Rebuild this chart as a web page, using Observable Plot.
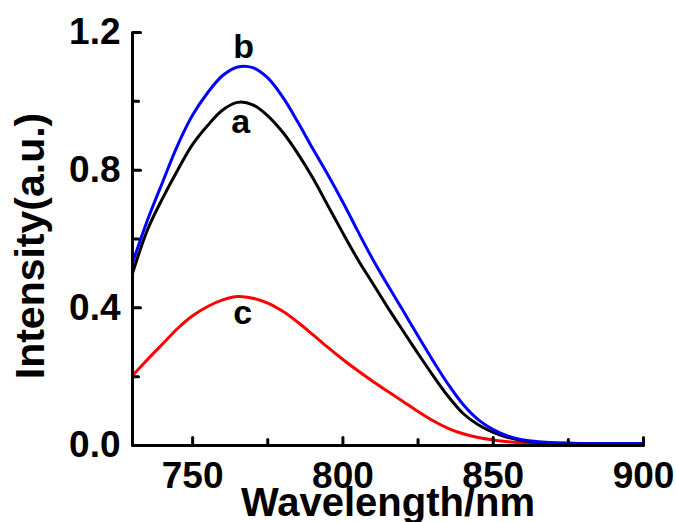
<!DOCTYPE html>
<html>
<head>
<meta charset="utf-8">
<script src="https://cdn.jsdelivr.net/npm/d3@7"></script>
<script src="https://cdn.jsdelivr.net/npm/@observablehq/plot@0.6"></script>
<style>
  html, body { margin: 0; padding: 0; background: #fff; }
</style>
</head>
<body>
<div id="chart"></div>
<script>
const wavelengths = [730,735,740,745,750,755,760,765,770,775,780,785,790,795,800,805,810,815,820,825,830,835,840,845,850,855,860,865,870,875,880,885,890,895,900];
const seriesA = [0.50,0.627,0.718,0.80,0.875,0.93,0.975,0.997,0.99,0.958,0.91,0.848,0.777,0.697,0.617,0.54,0.47,0.40,0.333,0.267,0.203,0.143,0.093,0.06,0.038,0.023,0.014,0.009,0.007,0.006,0.005,0.005,0.005,0.005,0.005];
const seriesB = [0.53,0.655,0.765,0.872,0.96,1.025,1.075,1.10,1.098,1.068,1.012,0.94,0.862,0.787,0.707,0.622,0.54,0.465,0.392,0.318,0.246,0.178,0.119,0.075,0.046,0.027,0.016,0.011,0.008,0.007,0.006,0.006,0.006,0.006,0.006];
const seriesC = [0.203,0.25,0.295,0.34,0.377,0.404,0.423,0.433,0.428,0.414,0.39,0.358,0.322,0.285,0.25,0.217,0.186,0.157,0.128,0.099,0.072,0.05,0.034,0.023,0.016,0.011,0.008,0.006,0.005,0.004,0.004,0.004,0.004,0.004,0.004];
const seriesNames = ["c", "a", "b"];
const seriesColors = ["#ff0000", "#000000", "#0000ff"];
const labelNames = ["a", "b", "c"];
const labelX = [766, 767, 766.7];
const labelY = [0.94, 1.157, 0.384];
const xTicks = [750, 800, 850, 900];
const xMinorTicks = [775, 825, 875];
const yTicks = [0, 0.4, 0.8, 1.2];
const yMinorTicks = [0.2, 0.6, 1.0];
const xTitle = "Wavelength/nm";
const yTitle = "Intensity(a.u.)";

const allSeries = {a: seriesA, b: seriesB, c: seriesC};
const rows = [];
for (const name of seriesNames) {
  allSeries[name].forEach((v, i) => rows.push({series: name, x: wavelengths[i], y: v}));
}
const labels = labelNames.map((t, i) => ({text: t, x: labelX[i], y: labelY[i]}));

const font = "'Liberation Sans', Arial, Helvetica, sans-serif";
const tickShape = {draw(context, l) { context.moveTo(0, 0); context.lineTo(0, -l); }};
const xMin = 730;
const yMin = 0;

const chart = Plot.plot({
  width: 676,
  height: 522,
  marginLeft: 132,
  marginRight: 33,
  marginTop: 32,
  marginBottom: 77,
  style: {fontFamily: font, fontWeight: "bold", background: "#fff", color: "#000"},
  x: {domain: [730, 900]},
  y: {domain: [0, 1.2]},
  color: {domain: seriesNames, range: seriesColors},
  marks: [
    Plot.line(rows, {x: "x", y: "y", z: "series", stroke: "series", strokeWidth: 3, curve: "catmull-rom"}),
    Plot.ruleY([yMin], {stroke: "#000", strokeWidth: 3}),
    Plot.ruleX([xMin], {stroke: "#000", strokeWidth: 3}),
    // inward ticks
    Plot.vector(xTicks, {x: d => d, y: yMin, length: 8, rotate: 0, anchor: "start", shape: tickShape, stroke: "#000", strokeWidth: 3}),
    Plot.vector(xMinorTicks, {x: d => d, y: yMin, length: 6, rotate: 0, anchor: "start", shape: tickShape, stroke: "#000", strokeWidth: 3}),
    Plot.vector(yTicks, {y: d => d, x: xMin, length: 8, rotate: 90, anchor: "start", shape: tickShape, stroke: "#000", strokeWidth: 3}),
    Plot.vector(yMinorTicks, {y: d => d, x: xMin, length: 6, rotate: 90, anchor: "start", shape: tickShape, stroke: "#000", strokeWidth: 3}),
    // tick labels
    Plot.axisX({ticks: xTicks, tickSize: 0, tickPadding: 16, tickFormat: d3.format("d"), fontSize: 37, fontWeight: "bold", label: null}),
    Plot.axisY({ticks: yTicks, tickSize: 0, tickPadding: 12, tickFormat: d3.format(".1f"), fontSize: 37, fontWeight: "bold", label: null}),
    Plot.text(labels, {x: "x", y: "y", text: "text", fontSize: 34, fontWeight: "bold", fill: "#000"}),
    Plot.text([xTitle], {frameAnchor: "bottom", textAnchor: "middle", lineAnchor: "bottom", dy: 70, fontSize: 40, fontWeight: "bold", fill: "#000"}),
    Plot.text([yTitle], {frameAnchor: "left", textAnchor: "middle", rotate: -90, dx: -102, dy: 7, fontSize: 41, fontWeight: "bold", fill: "#000"})
  ]
});
document.getElementById("chart").appendChild(chart);
</script>
</body>
</html>
